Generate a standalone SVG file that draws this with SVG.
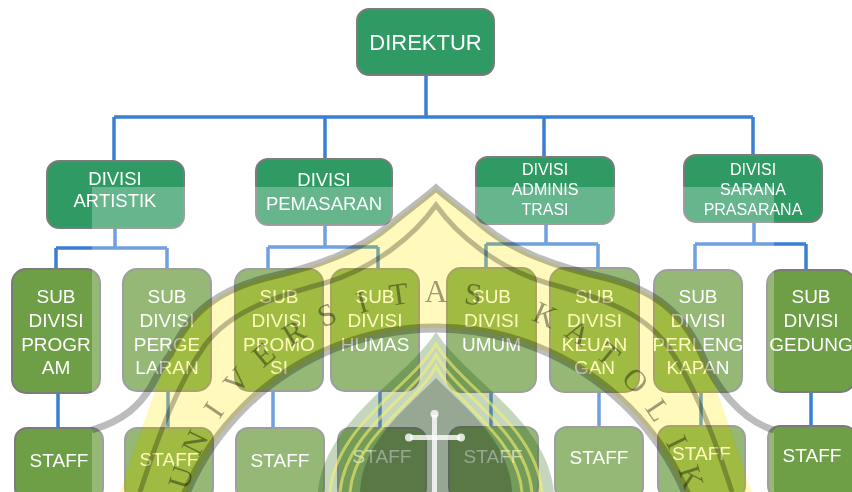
<svg xmlns="http://www.w3.org/2000/svg" width="852" height="492" viewBox="0 0 852 492">
<style>
.top{fill:#2f9a63;stroke:#7b7b7b;stroke-width:2}
.sub{fill:#6e9e45;stroke:#7b7b7b;stroke-width:2}
.t{font-family:"Liberation Sans",Arial,sans-serif;fill:#ffffff;text-anchor:middle}
.t19{font-size:19px}
.t16{font-size:16px}
.conn path{stroke:#3b7fd4;stroke-width:3.5;fill:none}
.wl{font-family:"Liberation Serif","Times New Roman",serif;font-size:31px;fill:#3c3c3c;fill-opacity:0.5;text-anchor:middle;mix-blend-mode:multiply}
.gl{fill:none;stroke:#6a6a6a;stroke-opacity:0.45;mix-blend-mode:multiply}
</style>
<defs>
<path id="contour" d="M 120,492 C 135,450 150,400 170,355 C 190,310 220,290 265,278 C 320,266 360,250 390,225 C 410,208 425,198 436,188 C 447,198 462,208 482,225 C 512,250 552,266 607,278 C 652,290 682,310 702,355 C 722,400 737,450 752,492 Z"/>
<mask id="noYellow" maskUnits="userSpaceOnUse" x="0" y="0" width="852" height="492">
<rect x="0" y="0" width="852" height="492" fill="#fff"/>
<use href="#contour" fill="#000"/>
<circle cx="436" cy="600" r="272" fill="#fff"/>
</mask>
</defs>
<rect x="0" y="0" width="852" height="492" fill="#ffffff"/>

<g id="connectors" class="conn">
<path d="M426,75 V117 M114,117 H753 M114,117 V161 M325,117 V159 M544,117 V157 M753,117 V155"/>
<path d="M115,228 V248 M56,248 H167 M56,248 V269 M167,248 V269"/>
<path d="M325,225 V247 M268,247 H378 M268,247 V269 M378,247 V269"/>
<path d="M546,224 V244 M486,244 H598 M486,244 V268 M598,244 V268"/>
<path d="M754,222 V244 M695,244 H806 M695,244 V270 M806,244 V270"/>
<path d="M58,393 V428 M168,391 V428 M273,391 V428 M380,391 V428 M491,392 V427 M599,392 V427 M701,392 V426 M811,392 V426"/>
</g>

<g id="direktur"><rect class="top" x="357" y="9" width="137" height="66" rx="12"/><text class="t" x="425.5" y="50" font-size="22">DIREKTUR</text></g>

<g id="divisi-artistik"><rect class="top" x="47" y="161" width="137" height="67" rx="12"/><text class="t" font-size="18.5" x="115" y="185">DIVISI</text><text class="t" font-size="18.5" x="115" y="207">ARTISTIK</text></g>
<g id="divisi-pemasaran"><rect class="top" x="256" y="159" width="136" height="66" rx="12"/><text class="t" font-size="18.5" x="324" y="186">DIVISI</text><text class="t" font-size="18.5" x="324" y="210">PEMASARAN</text></g>
<g id="divisi-administrasi"><rect class="top" x="476" y="157" width="138" height="67" rx="12"/><text class="t t16" x="545" y="175">DIVISI</text><text class="t t16" x="545" y="195">ADMINIS</text><text class="t t16" x="545" y="215">TRASI</text></g>
<g id="divisi-sarana"><rect class="top" x="684" y="155" width="138" height="67" rx="12"/><text class="t t16" x="753" y="175">DIVISI</text><text class="t t16" x="753" y="195">SARANA</text><text class="t t16" x="753" y="215">PRASARANA</text></g>

<g id="sub-program"><rect class="sub" x="12" y="269" width="88" height="124" rx="14"/><text class="t t19" x="56" y="303">SUB</text><text class="t t19" x="56" y="327">DIVISI</text><text class="t t19" x="56" y="351">PROGR</text><text class="t t19" x="56" y="374">AM</text></g>
<g id="sub-pergelaran"><rect class="sub" x="123" y="269" width="88" height="122" rx="14"/><text class="t t19" x="167" y="303">SUB</text><text class="t t19" x="167" y="327">DIVISI</text><text class="t t19" x="167" y="351">PERGE</text><text class="t t19" x="167" y="374">LARAN</text></g>
<g id="sub-promosi"><rect class="sub" x="235" y="269" width="88" height="122" rx="14"/><text class="t t19" x="279" y="303">SUB</text><text class="t t19" x="279" y="327">DIVISI</text><text class="t t19" x="279" y="351">PROMO</text><text class="t t19" x="279" y="374">SI</text></g>
<g id="sub-humas"><rect class="sub" x="331" y="269" width="88" height="122" rx="14"/><text class="t t19" x="375" y="303">SUB</text><text class="t t19" x="375" y="327">DIVISI</text><text class="t t19" x="375" y="351">HUMAS</text></g>
<g id="sub-umum"><rect class="sub" x="447" y="268" width="89" height="124" rx="14"/><text class="t t19" x="491.5" y="303">SUB</text><text class="t t19" x="491.5" y="327">DIVISI</text><text class="t t19" x="491.5" y="351">UMUM</text></g>
<g id="sub-keuangan"><rect class="sub" x="550" y="268" width="89" height="124" rx="14"/><text class="t t19" x="594.5" y="303">SUB</text><text class="t t19" x="594.5" y="327">DIVISI</text><text class="t t19" x="594.5" y="351">KEUAN</text><text class="t t19" x="594.5" y="374">GAN</text></g>
<g id="sub-perlengkapan"><rect class="sub" x="654" y="270" width="88" height="122" rx="14"/><text class="t t19" x="698" y="303">SUB</text><text class="t t19" x="698" y="327">DIVISI</text><text class="t t19" x="698" y="351">PERLENG</text><text class="t t19" x="698" y="374">KAPAN</text></g>
<g id="sub-gedung"><rect class="sub" x="767" y="270" width="88" height="122" rx="14"/><text class="t t19" x="811" y="303">SUB</text><text class="t t19" x="811" y="327">DIVISI</text><text class="t t19" x="811" y="351">GEDUNG</text></g>

<g id="staff-program"><rect class="sub" x="15" y="428" width="88" height="72" rx="12"/><text class="t t19" x="59" y="467">STAFF</text></g>
<g id="staff-pergelaran"><rect class="sub" x="125" y="428" width="88" height="72" rx="12"/><text class="t t19" x="169" y="466">STAFF</text></g>
<g id="staff-promosi"><rect class="sub" x="236" y="428" width="88" height="72" rx="12"/><text class="t t19" x="280" y="467">STAFF</text></g>
<g id="staff-humas"><rect class="sub" x="338" y="428" width="88" height="72" rx="12"/><text class="t t19" x="382" y="463">STAFF</text></g>
<g id="staff-umum"><rect class="sub" x="449" y="427" width="89" height="72" rx="12"/><text class="t t19" x="493" y="463">STAFF</text></g>
<g id="staff-keuangan"><rect class="sub" x="555" y="427" width="88" height="72" rx="12"/><text class="t t19" x="599" y="464">STAFF</text></g>
<g id="staff-perlengkapan"><rect class="sub" x="658" y="426" width="87" height="72" rx="12"/><text class="t t19" x="701.5" y="460">STAFF</text></g>
<g id="staff-gedung"><rect class="sub" x="768" y="426" width="88" height="72" rx="12"/><text class="t t19" x="812" y="462">STAFF</text></g>

<g id="watermark">
<rect x="92" y="187" width="682" height="305" fill="#ffffff" fill-opacity="0.27" mask="url(#noYellow)"/>
<path d="M 120,492 C 135,450 150,400 170,355 C 190,310 220,290 265,278 C 320,266 360,250 390,225 C 410,208 425,198 436,188 C 447,198 462,208 482,225 C 512,250 552,266 607,278 C 652,290 682,310 702,355 C 722,400 737,450 752,492 Z M 164,600 A 272,272 0 1 0 708,600 A 272,272 0 1 0 164,600 Z" fill="#fff03c" fill-opacity="0.35" fill-rule="evenodd"/>
<path class="gl" stroke-width="7" d="M 92,430 C 125,420 140,405 152,385 C 160,370 165,360 170,355 C 190,310 220,290 265,278 C 320,266 360,250 390,225 C 410,208 425,198 436,188 C 447,198 462,208 482,225 C 512,250 552,266 607,278 C 652,290 682,310 702,355 C 715,385 740,420 774,430"/>
<path class="gl" stroke-width="5" d="M 140,492 C 160,430 180,380 205,345 C 230,312 270,298 325,283 C 375,268 415,235 436,205 C 457,235 497,268 547,283 C 602,298 642,312 667,345 C 692,380 712,430 732,492"/>
<circle class="gl" stroke-width="9" cx="436" cy="600" r="272"/>
<path d="M 318,492 C 325,420 405,380 436,332 C 467,380 547,420 554,492 Z" fill="#3a7a28" fill-opacity="0.3" style="mix-blend-mode:multiply"/>
<g fill="none" stroke="#f7f06a" stroke-opacity="0.6" stroke-width="3">
<path d="M 330,492 C 336,425 410,388 436,344 C 462,388 536,425 542,492"/>
<path d="M 340,492 C 346,430 414,396 436,355 C 458,396 526,430 532,492"/>
<path d="M 350,492 C 355,435 418,403 436,366 C 454,403 517,435 522,492"/>
</g>
<path d="M 360,492 C 362,440 410,405 436,378 C 462,405 510,440 512,492 Z" fill="#a0a0a0" fill-opacity="0.6" style="mix-blend-mode:multiply"/>
<g fill="#ffffff" fill-opacity="0.8">
<rect x="432" y="415" width="5" height="77"/>
<rect x="410" y="435" width="50" height="5"/>
<circle cx="434.5" cy="414" r="4"/>
<circle cx="409" cy="437.5" r="4"/>
<circle cx="461" cy="437.5" r="4"/>
</g>
<g id="watermark-letters">
<text class="wl" x="436" y="302" transform="rotate(-72 436 560)">U</text>
<text class="wl" x="436" y="302" transform="rotate(-64 436 560)">N</text>
<text class="wl" x="436" y="302" transform="rotate(-56 436 560)">I</text>
<text class="wl" x="436" y="302" transform="rotate(-48 436 560)">V</text>
<text class="wl" x="436" y="302" transform="rotate(-40 436 560)">E</text>
<text class="wl" x="436" y="302" transform="rotate(-32 436 560)">R</text>
<text class="wl" x="436" y="302" transform="rotate(-24 436 560)">S</text>
<text class="wl" x="436" y="302" transform="rotate(-16 436 560)">I</text>
<text class="wl" x="436" y="302" transform="rotate(-8 436 560)">T</text>
<text class="wl" x="436" y="302" transform="rotate(0 436 560)">A</text>
<text class="wl" x="436" y="302" transform="rotate(8 436 560)">S</text>
<text class="wl" x="436" y="302" transform="rotate(24 436 560)">K</text>
<text class="wl" x="436" y="302" transform="rotate(32 436 560)">A</text>
<text class="wl" x="436" y="302" transform="rotate(40 436 560)">T</text>
<text class="wl" x="436" y="302" transform="rotate(48 436 560)">O</text>
<text class="wl" x="436" y="302" transform="rotate(56 436 560)">L</text>
<text class="wl" x="436" y="302" transform="rotate(64 436 560)">I</text>
<text class="wl" x="436" y="302" transform="rotate(72 436 560)">K</text>
</g>
</g>
</svg>
